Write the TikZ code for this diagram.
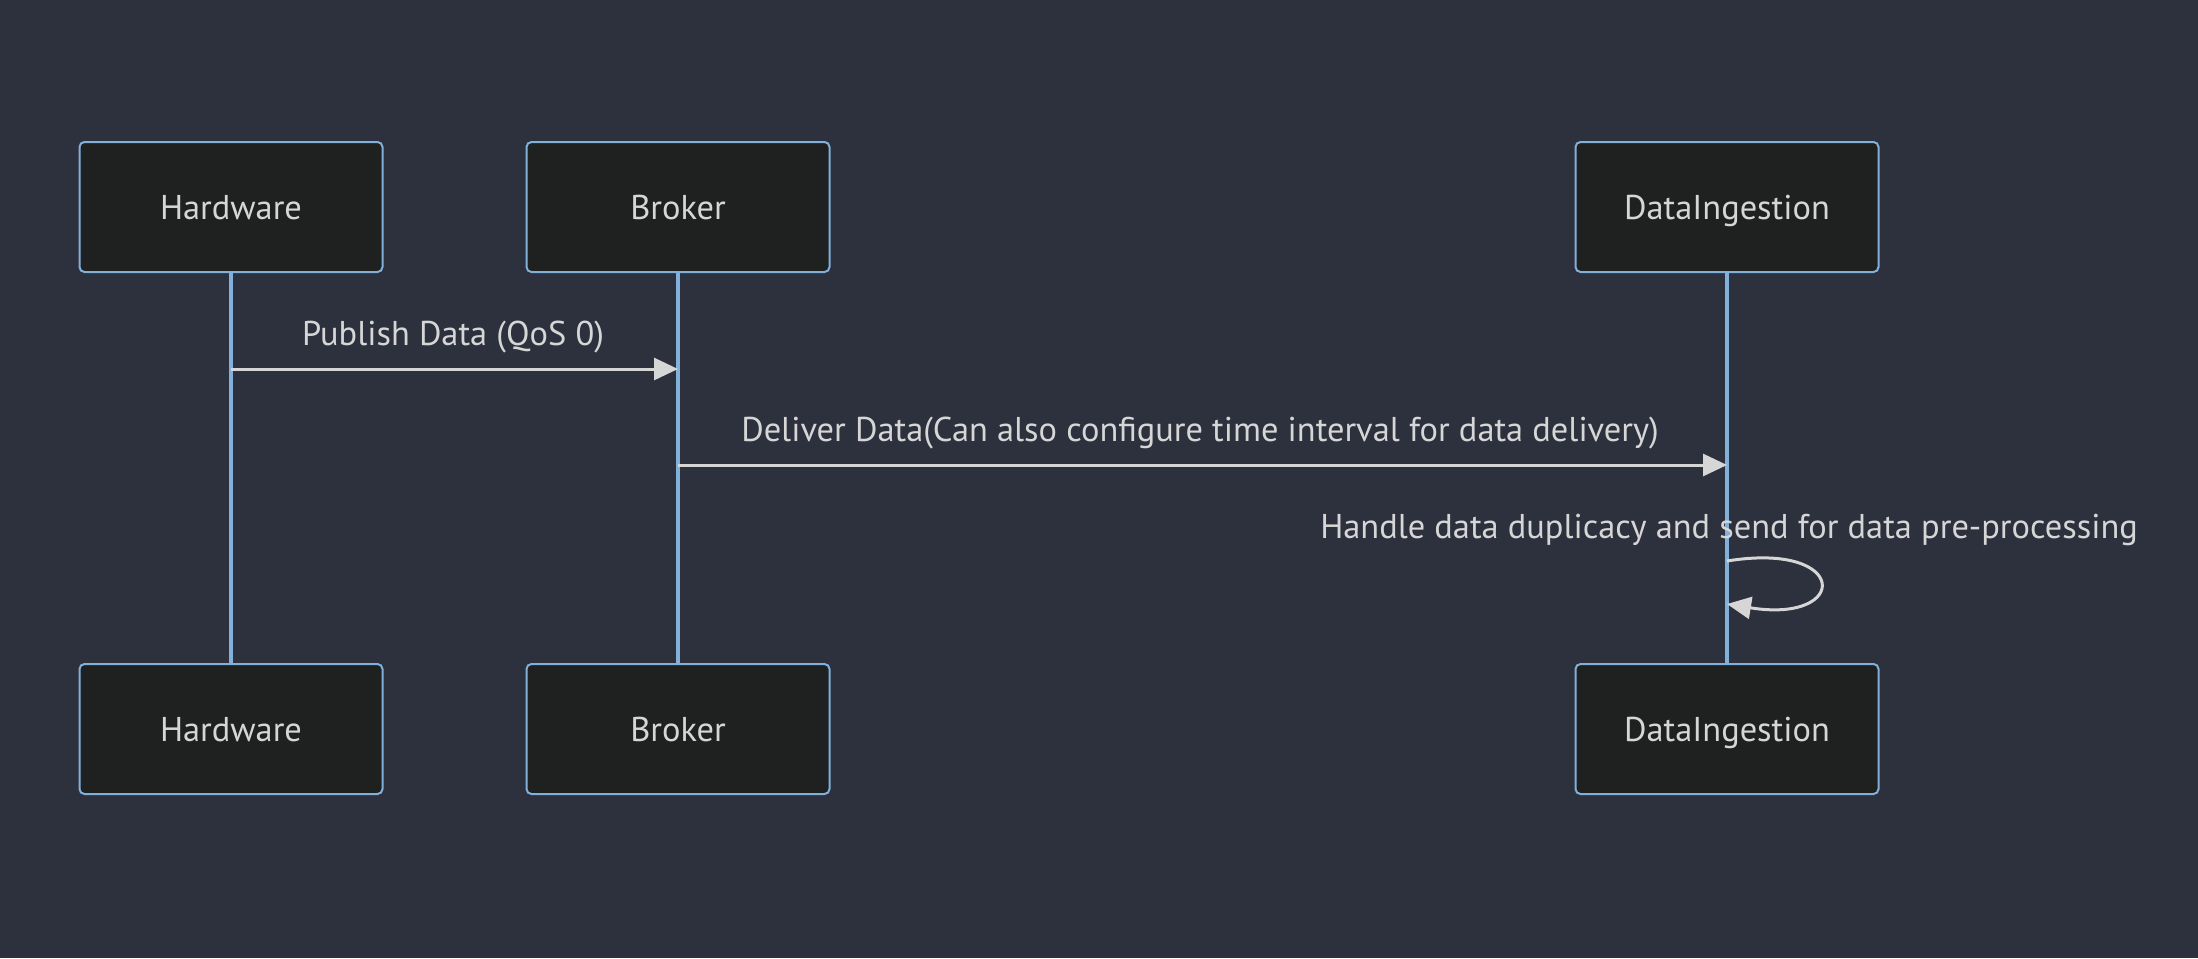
\documentclass[tikz,border=0pt]{standalone}
\usepackage{fontspec}
\setmainfont{PT Sans}
\usetikzlibrary{arrows.meta}
\definecolor{bgc}{HTML}{2D303D}
\definecolor{boxfill}{HTML}{1F2020}
\definecolor{boxline}{HTML}{81B1DB}
\definecolor{txt}{HTML}{D6D6D6}
\begin{document}
\begin{tikzpicture}[x=0.5pt,y=-0.5pt,
  actor/.style={draw=boxline, fill=boxfill, line width=1pt, rounded corners=2.5pt,
    minimum width=151.5pt, minimum height=65pt, text=txt, font=\fontsize{17.2}{20}\selectfont,
    inner sep=0pt, text height=12pt, text depth=0pt},
  life/.style={draw=boxline, line width=1.8pt},
  msg/.style={draw=txt, line width=1.5pt, -{Triangle[length=12pt,width=11pt]}},
  lbl/.style={text=txt, font=\fontsize{17.2}{20}\selectfont, inner sep=0pt}]
\fill[bgc] (0,0) rectangle (2198,958);
\useasboundingbox (0,0) rectangle (2198,958);
% top actors
\node[actor] (hwT) at (231,207) {Hardware};
\node[actor] (brT) at (678,207) {Broker};
\node[actor] (diT) at (1727,207) {DataIngestion};
% bottom actors
\node[actor] (hwB) at (231,729) {Hardware};
\node[actor] (brB) at (678,729) {Broker};
\node[actor] (diB) at (1727,729) {DataIngestion};
% lifelines
\draw[life] (hwT.south) -- (hwB.north);
\draw[life] (brT.south) -- (brB.north);
\draw[life] (diT.south) -- (diB.north);
% message points
\coordinate (m1a) at (231,369);
\coordinate (m1b) at (678,369);
\coordinate (m2a) at (678,465);
\coordinate (m2b) at (1727,465);
\coordinate (m3a) at (1727,561);
\coordinate (m3b) at (1727,604);
% messages
\node[lbl] (l1) at (453,337) {Publish Data (QoS 0)};
\draw[msg] (m1a) -- (m1b);
\node[lbl] (l2) at (1200,433) {Deliver Data(Can also configure time interval for data delivery)};
\draw[msg] (m2a) -- (m2b);
\node[lbl] (l3) at (1729,530) {Handle data duplicacy and send for data pre-processing};
\draw[msg] (m3a) .. controls (1850,541) and (1850,624) .. (m3b);
\end{tikzpicture}
\end{document}
